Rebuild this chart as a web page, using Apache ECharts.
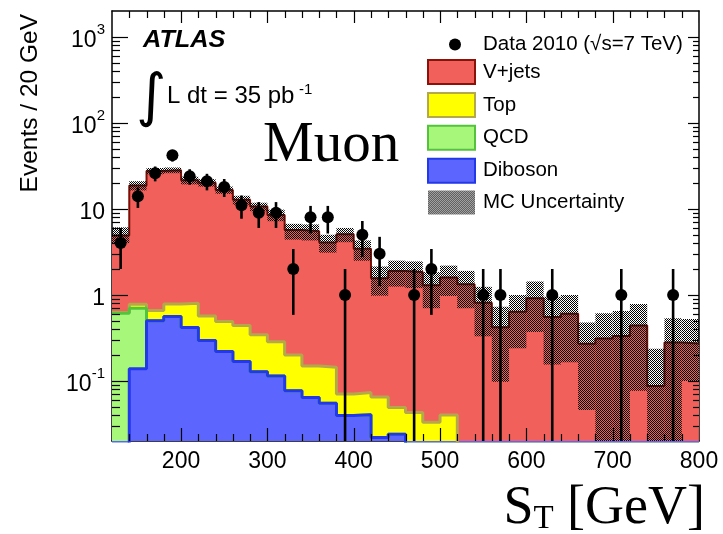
<!DOCTYPE html>
<html>
<head>
<meta charset="utf-8">
<script src="https://cdn.jsdelivr.net/npm/echarts@6/dist/echarts.min.js"></script>
<style>
  html, body { margin: 0; padding: 0; background: #fff; }
  #chart { width: 723px; height: 534px; }
</style>
</head>
<body>
<div id="chart"></div>
<script>
// Histogram bin edges in S_T [GeV] (20 GeV bins)
const binEdges = [120, 140, 160, 180, 200, 220, 240, 260, 280, 300, 320, 340, 360, 380, 400, 420, 440, 460, 480, 500,
                  520, 540, 560, 580, 600, 620, 640, 660, 680, 700, 720, 740, 760, 780, 800];

// Observed events per bin
const dataCounts = [4, 14, 26, 42, 24, 21, 18, 11, 9, 9, 2, 8, 8, 1, 5, 3, 0, 1, 2, 0,
                    0, 1, 1, 0, 0, 1, 0, 0, 0, 1, 0, 0, 1, 0];

// Expected events per bin, by process
const vjets = [4.27, 17.9, 26.9, 27.4, 20.7, 19.6, 16.1, 12.3, 10.3, 8.2, 5.5, 5.35, 3.92, 5.0, 3.36, 1.50, 1.85, 1.80, 1.26, 1.55,
               1.32, 0.80, 0.415, 0.63, 0.91, 0.55, 0.60, 0.265, 0.307, 0.328, 0.436, 0.082, 0.274, 0.267];
const topQuark = [0.010, 0.080, 0.157, 0.226, 0.383, 0.276, 0.271, 0.272, 0.215, 0.172, 0.123, 0.085, 0.089, 0.031, 0.033, 0.043, 0.025, 0.033, 0.023, 0.030,
                  0, 0, 0, 0, 0, 0, 0, 0, 0, 0, 0, 0, 0, 0];
const qcd = [0.60, 0.56, 0, 0, 0, 0, 0, 0, 0, 0, 0, 0, 0, 0, 0, 0, 0, 0, 0, 0,
             0, 0, 0, 0, 0, 0, 0, 0, 0, 0, 0, 0, 0, 0];
const diboson = [0.012, 0.138, 0.50, 0.56, 0.417, 0.294, 0.219, 0.168, 0.128, 0.114, 0.077, 0.064, 0.055, 0.0395, 0.0405, 0.022, 0.024, 0.010, 0.010, 0.010,
                 0.008, 0.008, 0.006, 0.006, 0.006, 0.005, 0.005, 0.005, 0.005, 0.005, 0.005, 0.005, 0.005, 0.005];

// MC uncertainty band (lower / upper edge of the total expectation)
const bandLow = [4.0, 16.4, 25.3, 26.0, 19.3, 18.2, 15.0, 11.2, 9.4, 7.2, 4.4, 4.3, 3.1, 4.1, 2.5, 0.98, 1.25, 1.2, 0.70, 0.97,
                 0.70, 0.33, 0.098, 0.24, 0.37, 0.155, 0.165, 0.046, 0, 0, 0.077, 0, 0, 0.10];
const bandHigh = [6.1, 21.0, 29.9, 30.3, 23.7, 22.2, 18.2, 14.2, 11.8, 9.8, 6.7, 6.6, 5.0, 6.0, 4.3, 2.14, 2.5, 2.45, 1.84, 2.19,
                  1.90, 1.24, 0.73, 1.0, 1.43, 0.95, 1.0, 0.476, 0.61, 0.65, 0.786, 0.236, 0.535, 0.526];

// Axis ticks
const xLabelTicks = [200, 300, 400, 500, 600, 700, 800];
const xMinorTicks = [140, 160, 180, 220, 240, 260, 280, 320, 340, 360, 380, 420, 440, 460, 480, 520, 540, 560, 580,
                     620, 640, 660, 680, 720, 740, 760, 780];
const yLabelTicks = [0.1, 1, 10, 100, 1000];
const yMinorTicks = [0.03, 0.04, 0.05, 0.06, 0.07, 0.08, 0.09, 0.2, 0.3, 0.4, 0.5, 0.6, 0.7, 0.8, 0.9,
                     2, 3, 4, 5, 6, 7, 8, 9, 20, 30, 40, 50, 60, 70, 80, 90, 200, 300, 400, 500, 600, 700, 800, 900];

const X_MIN = 120, X_MAX = 800, Y_MIN = 0.02, Y_MAX = 2000;
const FONT = '"Liberation Sans", Arial, Helvetica, sans-serif';
const SERIF = '"Liberation Serif", "Times New Roman", serif';
const DATA_NAME = 'Data 2010 (\u221As=7 TeV)';

// Fine dot hatch used for the MC uncertainty band
function dotPattern() {
  const c = document.createElement('canvas');
  c.width = 2; c.height = 2;
  const g = c.getContext('2d');
  g.fillStyle = '#000';
  g.fillRect(0, 0, 1, 1);
  g.fillRect(1, 1, 1, 1);
  return { image: c, repeat: 'repeat' };
}
const hatch = dotPattern();

// Stack the processes (Diboson at the bottom, then QCD, Top, V+jets)
const cumDib = diboson.slice();
const cumQcd = cumDib.map((v, i) => v + qcd[i]);
const cumTop = cumQcd.map((v, i) => v + topQuark[i]);
const cumAll = cumTop.map((v, i) => v + vjets[i]);

// Histogram outline as a step line over the bin edges
function steps(vals) {
  const safe = v => (v > 0 ? v : 1e-4);
  const pts = vals.map((v, i) => [binEdges[i], safe(v)]);
  pts.push([binEdges[binEdges.length - 1], safe(vals[vals.length - 1])]);
  return pts;
}

function histSeries(name, vals, fill, edge, edgeWidth) {
  return {
    name: name, type: 'line', step: 'end', symbol: 'none', clip: true, z: 1,
    data: steps(vals),
    lineStyle: { color: edge, width: edgeWidth },
    itemStyle: { color: fill, borderColor: edge },
    areaStyle: { color: fill, opacity: 1, origin: 'start' },
    silent: true
  };
}

const centers = binEdges.slice(0, -1).map((e, i) => (e + binEdges[i + 1]) / 2);
const pointData = [];
const errData = [];
dataCounts.forEach((n, i) => {
  if (n > 0) {
    pointData.push([centers[i], n]);
    errData.push([centers[i], Math.max(n - Math.sqrt(n), Y_MIN), n + Math.sqrt(n)]);
  }
});

const bandData = bandLow.map((lo, i) => [binEdges[i], binEdges[i + 1], Math.max(lo, Y_MIN), bandHigh[i]]);

// Frame tick marks: only the coordinate along the axis matters,
// the frame edges are taken from the grid rectangle.
const xTickRows = xLabelTicks.concat(xMinorTicks).map(v => [v, 1]);
const yTickRows = yLabelTicks.concat(yMinorTicks).map(v => [400, v]);
const isMajorX = v => xLabelTicks.some(t => Math.abs(t - v) < 1e-6);
const isMajorY = v => yLabelTicks.some(t => Math.abs(t - v) / t < 1e-6);

// side: 'bottom' | 'top' | 'left' | 'right'; lengths in px for labelled / minor ticks
function tickSeries(side, rows, majorLen, minorLen) {
  const vertical = side === 'bottom' || side === 'top';
  return {
    name: 'ticks ' + side, type: 'custom', clip: true, silent: true, z: 6,
    data: rows,
    encode: { x: 0, y: 1 },
    renderItem: (params, api) => {
      const cs = params.coordSys;
      const p = api.coord([api.value(0), api.value(1)]);
      if (vertical) {
        const len = isMajorX(api.value(0)) ? majorLen : minorLen;
        const x = Math.round(p[0]) + 0.5;
        const y0 = side === 'bottom' ? cs.y + cs.height : cs.y;
        const y1 = side === 'bottom' ? y0 - len : y0 + len;
        return { type: 'line', shape: { x1: x, y1: y0, x2: x, y2: y1 }, style: { stroke: '#000', lineWidth: 1.2 } };
      }
      const len = isMajorY(api.value(1)) ? majorLen : minorLen;
      const y = Math.round(p[1]) + 0.5;
      const x0 = side === 'left' ? cs.x : cs.x + cs.width;
      const x1 = side === 'left' ? x0 + len : x0 - len;
      return { type: 'line', shape: { x1: x0, y1: y, x2: x1, y2: y }, style: { stroke: '#000', lineWidth: 1.2 } };
    }
  };
}

const chart = echarts.init(document.getElementById('chart'), null, { renderer: 'canvas' });

chart.setOption({
  animation: false,
  backgroundColor: '#fff',
  grid: { left: 112, top: 11, right: 24, bottom: 93, containLabel: false },
  xAxis: [
    {
      type: 'value', min: X_MIN, max: X_MAX, position: 'bottom',
      axisLine: { show: true, onZero: false, lineStyle: { color: '#000', width: 1.5 } },
      axisTick: { show: false },
      axisLabel: { show: true, customValues: xLabelTicks, fontSize: 23, fontFamily: FONT, color: '#000', margin: 9 },
      splitLine: { show: false }
    },
    {
      type: 'value', min: X_MIN, max: X_MAX, position: 'top',
      axisLine: { show: true, onZero: false, lineStyle: { color: '#000', width: 1.5 } },
      axisTick: { show: false }, axisLabel: { show: false }, splitLine: { show: false }
    }
  ],
  yAxis: [
    {
      type: 'log', logBase: 10, min: Y_MIN, max: Y_MAX, position: 'left',
      axisLine: { show: true, onZero: false, lineStyle: { color: '#000', width: 1.5 } },
      axisTick: { show: false },
      axisLabel: {
        show: true, customValues: yLabelTicks, margin: 7, align: 'right',
        formatter: v => {
          const e = Math.round(Math.log10(v));
          if (e === 0) return '{b|1}';
          if (e === 1) return '{b|10}';
          return '{b|10}{s|' + (e < 0 ? '-' : '') + Math.abs(e) + '}';
        },
        rich: {
          b: { fontSize: 23, fontFamily: FONT, color: '#000', lineHeight: 30, verticalAlign: 'bottom' },
          s: { fontSize: 15, fontFamily: FONT, color: '#000', lineHeight: 30, verticalAlign: 'top' }
        }
      },
      splitLine: { show: false }
    },
    {
      type: 'log', logBase: 10, min: Y_MIN, max: Y_MAX, position: 'right',
      axisLine: { show: true, onZero: false, lineStyle: { color: '#000', width: 1.5 } },
      axisTick: { show: false }, axisLabel: { show: false }, splitLine: { show: false }
    }
  ],
  legend: [
    {
      data: [{ name: DATA_NAME, icon: 'circle', itemStyle: { color: '#000' } }],
      left: 449, top: 34, padding: 0, itemWidth: 40, itemHeight: 12, selectedMode: false,
      textStyle: { fontSize: 20.5, fontFamily: FONT, color: '#000', padding: [0, 0, 0, 3] }
    },
    {
      orient: 'vertical', left: 427, top: 59, padding: 0, itemWidth: 47, itemHeight: 24, itemGap: 6.9,
      selectedMode: false,
      textStyle: { fontSize: 20.5, fontFamily: FONT, color: '#000', padding: [0, 0, 0, 3] },
      data: [
        { name: 'V+jets', icon: 'rect', itemStyle: { color: '#f1605a', borderColor: '#8a1208', borderWidth: 2 } },
        { name: 'Top', icon: 'rect', itemStyle: { color: '#ffff00', borderColor: '#b3a94a', borderWidth: 2 } },
        { name: 'QCD', icon: 'rect', itemStyle: { color: '#a6f77a', borderColor: '#55c23e', borderWidth: 2 } },
        { name: 'Diboson', icon: 'rect', itemStyle: { color: '#5c66ff', borderColor: '#2338e8', borderWidth: 2 } },
        { name: 'MC Uncertainty', icon: 'rect', itemStyle: { color: hatch, borderWidth: 0 } }
      ]
    }
  ],
  series: [
    histSeries('V+jets', cumAll, '#f1605a', '#7a0f06', 2),
    histSeries('Top', cumTop, '#ffff00', '#b3a94a', 3),
    histSeries('QCD', cumQcd, '#a6f77a', '#55c23e', 3),
    histSeries('Diboson', cumDib, '#5c66ff', '#2338e8', 3),
    {
      name: 'MC Uncertainty', type: 'custom', clip: true, silent: true, z: 3,
      data: bandData,
      encode: { x: [0, 1], y: [2, 3] },
      itemStyle: { color: hatch },
      renderItem: (params, api) => {
        const p0 = api.coord([api.value(0), api.value(3)]);
        const p1 = api.coord([api.value(1), api.value(2)]);
        return {
          type: 'rect',
          shape: { x: p0[0], y: p0[1], width: p1[0] - p0[0], height: p1[1] - p0[1] },
          style: { fill: hatch }
        };
      }
    },
    {
      name: 'errors', type: 'custom', clip: true, silent: true, z: 4,
      data: errData,
      encode: { x: 0, y: [1, 2] },
      renderItem: (params, api) => {
        const a = api.coord([api.value(0), api.value(1)]);
        const b = api.coord([api.value(0), api.value(2)]);
        return {
          type: 'line',
          shape: { x1: a[0], y1: a[1], x2: b[0], y2: b[1] },
          style: { stroke: '#000', lineWidth: 2.6 }
        };
      }
    },
    {
      name: DATA_NAME, type: 'scatter', symbol: 'circle', symbolSize: 12, silent: true, z: 5,
      data: pointData,
      itemStyle: { color: '#000', opacity: 1 }
    },
    tickSeries('bottom', xTickRows, 13, 7),
    tickSeries('top', xTickRows, 12, 7),
    tickSeries('left', yTickRows, 16, 8),
    tickSeries('right', yTickRows, 11, 6)
  ],
  graphic: [
    {
      type: 'text', x: 143, y: 41, scaleX: 1.1,
      style: { text: 'ATLAS', font: 'italic bold 23px ' + FONT, fill: '#000', verticalAlign: 'middle' }
    },
    {
      type: 'text', x: 136, y: 100,
      style: { text: '\u222B', font: '58px "DejaVu Sans", sans-serif', fill: '#000', verticalAlign: 'middle' }
    },
    {
      type: 'text', x: 167, y: 96,
      style: { text: 'L dt = 35 pb', font: '24px ' + FONT, fill: '#000', verticalAlign: 'middle' }
    },
    {
      type: 'text', x: 299, y: 90,
      style: { text: '-1', font: '15px ' + FONT, fill: '#000', verticalAlign: 'middle' }
    },
    {
      type: 'text', x: 263, y: 146,
      style: { text: 'Muon', font: '57px ' + SERIF, fill: '#000', verticalAlign: 'middle' }
    },
    {
      type: 'text', x: 30, y: 14, rotation: Math.PI / 2,
      style: { text: 'Events / 20 GeV', font: '24.5px ' + FONT, fill: '#000', align: 'right', verticalAlign: 'middle' }
    },
    {
      type: 'text', x: 705, y: 508,
      style: {
        text: '{a|S}{b|T}{a| [GeV]}', align: 'right', verticalAlign: 'middle',
        rich: {
          a: { font: '54px ' + SERIF, fill: '#000', lineHeight: 56, verticalAlign: 'bottom' },
          b: { font: '33px ' + SERIF, fill: '#000', lineHeight: 56, verticalAlign: 'bottom' }
        }
      }
    }
  ]
});
</script>
</body>
</html>
